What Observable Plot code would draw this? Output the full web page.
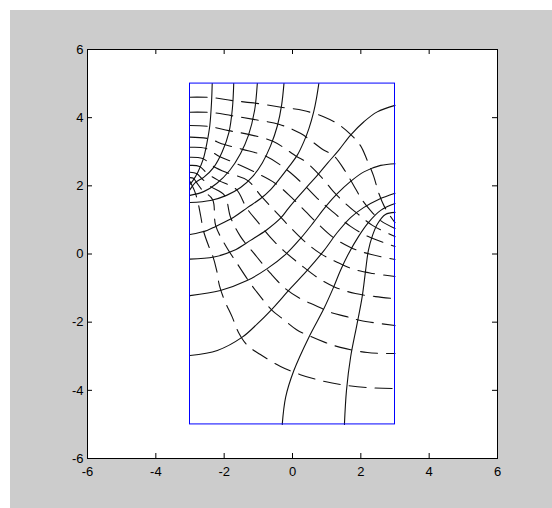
<!DOCTYPE html>
<html><head><meta charset="utf-8">
<script src="https://cdn.jsdelivr.net/npm/d3@7"></script>
<script src="https://cdn.jsdelivr.net/npm/@observablehq/plot@0.6"></script>
<style>
html,body{margin:0;padding:0;background:#fff;}
#wrap{position:relative;width:552px;height:508px;background:#fff;overflow:hidden;}
#bg{position:absolute;left:10px;top:10px;right:0;bottom:0;background:#cccccc;}
#chart{position:absolute;left:0;top:0;}
</style></head><body>
<div id="wrap"><div id="bg"></div><div id="chart"></div></div>
<script>
const xTicks = [-6, -4, -2, 0, 2, 4, 6];
const yTicks = [-6, -4, -2, 0, 2, 4, 6];
const boxX = [-3, 3];
const boxY = [-5, 5];

// solid curves
const S1 = [[-2.35,5],[-2.37,4.45],[-2.42,3.77],[-2.50,3.28],[-2.61,2.79],[-2.77,2.40],[-2.91,2.16],[-3,2.04]];
const S2 = [[-1.72,5],[-1.76,4.26],[-1.86,3.57],[-2.06,2.99],[-2.30,2.55],[-2.60,2.25],[-2.84,2.10],[-3,1.89]];
const S3 = [[-1.03,5],[-1.11,4.21],[-1.29,3.48],[-1.52,2.95],[-1.84,2.45],[-2.22,2.07],[-2.60,1.83],[-3,1.72]];
const S4 = [[-0.25,5],[-0.32,4.36],[-0.44,3.77],[-0.64,3.18],[-0.88,2.68],[-1.17,2.27],[-1.52,1.95],[-1.93,1.72],[-2.40,1.57],[-3,1.51]];
const S5 = [[0.77,5],[0.70,4.56],[0.62,4.17],[0.48,3.68],[0.33,3.29],[0.14,2.90],[-0.12,2.54],[-0.35,2.24],[-0.64,1.89],[-0.94,1.62],[-1.32,1.36],[-1.72,1.08],[-2.25,0.81],[-2.50,0.69],[-3,0.57]];
const S6 = [[3,4.36],[2.48,4.17],[2.09,3.88],[1.70,3.49],[1.35,3.04],[1.02,2.66],[0.72,2.30],[0.43,1.98],[0.15,1.66],[-0.12,1.34],[-0.35,1.05],[-0.74,0.72],[-1.23,0.40],[-1.72,0.10],[-2.30,-0.09],[-3,-0.15]];
const S7 = [[3,2.65],[2.58,2.60],[2.09,2.41],[1.70,2.13],[1.31,1.77],[0.97,1.39],[0.61,0.92],[0.23,0.45],[-0.20,-0.01],[-0.74,-0.43],[-1.33,-0.78],[-2.11,-1.07],[-3,-1.22]];
const S8 = [[-3,-2.98],[-2.20,-2.83],[-1.47,-2.44],[-1.03,-2.05],[-0.64,-1.66],[-0.06,-1.01],[0.43,-0.48],[0.92,0.10],[1.31,0.63],[1.70,1.07],[2.08,1.36],[2.52,1.60],[3,1.78]];
const S9 = [[-0.30,-5],[-0.20,-4.20],[0.04,-3.42],[0.48,-2.44],[0.92,-1.60],[1.20,-0.98],[1.40,-0.49],[1.64,0.01],[1.93,0.51],[2.22,0.92],[2.58,1.28],[3,1.48]];
const S10 = [[1.52,-5],[1.58,-4.00],[1.70,-3.03],[1.89,-2.05],[2.04,-1.25],[2.14,-0.48],[2.22,0.10],[2.34,0.54],[2.49,0.89],[2.72,1.16],[3,1.22]];

// dashed curves
const D1 = [[-3,4.60],[-2.37,4.59],[-1.76,4.50],[-1.05,4.42],[-0.29,4.30],[0.32,4.21],[0.91,4.03],[1.35,3.80],[1.70,3.51],[1.99,3.18],[2.19,2.74],[2.37,2.30],[2.52,1.80],[2.69,1.39],[2.87,1.10],[3,0.92]];
const D2 = [[-3,4.16],[-2.37,4.15],[-1.79,4.06],[-1.14,3.95],[-0.38,3.80],[0.23,3.54],[0.91,3.05],[1.20,2.89],[1.55,2.42],[1.84,1.92],[2.05,1.57],[2.28,1.28],[2.58,0.98],[3,0.75]];
const D3 = [[-3,3.77],[-2.43,3.74],[-1.87,3.62],[-1.29,3.51],[-0.56,3.30],[0.12,2.86],[0.38,2.71],[0.88,2.22],[1.20,1.83],[1.55,1.48],[1.93,1.16],[2.34,0.84],[3,0.51]];
const D4 = [[-3,3.43],[-2.49,3.39],[-1.99,3.21],[-1.46,3.07],[-0.76,2.86],[-0.18,2.48],[0.32,2.04],[0.76,1.60],[1.20,1.22],[1.70,0.81],[2.22,0.51],[3,0.22]];
const D5 = [[-3,3.13],[-2.55,3.10],[-2.14,2.86],[-1.70,2.68],[-1.08,2.39],[-0.50,2.07],[-0.03,1.66],[0.38,1.25],[0.76,0.87],[1.20,0.48],[1.70,0.19],[2.28,-0.01],[3,-0.16]];
const D6 = [[-3,2.84],[-2.63,2.80],[-2.31,2.57],[-1.93,2.39],[-1.32,2.16],[-0.91,1.69],[-0.53,1.28],[-0.15,0.87],[0.32,0.40],[0.82,0.01],[1.32,-0.25],[1.79,-0.45],[2.34,-0.57],[3,-0.66]];
const D7 = [[-3,2.60],[-2.72,2.57],[-2.49,2.36],[-2.17,2.16],[-1.64,1.89],[-1.35,1.36],[-1.00,0.92],[-0.64,0.48],[-0.26,0.10],[0.23,-0.31],[0.73,-0.69],[1.26,-0.98],[1.84,-1.16],[2.43,-1.25],[3,-1.31]];
const D8 = [[-3,2.40],[-2.81,2.36],[-2.66,2.22],[-2.40,1.98],[-1.99,1.72],[-1.81,1.07],[-1.52,0.51],[-1.08,-0.04],[-0.64,-0.57],[-0.18,-1.04],[0.23,-1.31],[0.67,-1.51],[1.11,-1.71],[1.55,-1.83],[1.99,-1.95],[3,-2.10]];
const D9 = [[-3,2.24],[-2.90,2.22],[-2.81,2.10],[-2.63,1.86],[-2.34,1.60],[-2.25,0.84],[-1.96,0.25],[-1.62,-0.28],[-1.29,-0.78],[-1.08,-1.07],[-0.59,-1.66],[-0.30,-1.89],[0.12,-2.22],[0.53,-2.42],[0.97,-2.60],[1.40,-2.74],[2.19,-2.89],[3,-2.92]];
const D10 = [[-3,2.13],[-2.87,1.86],[-2.78,1.57],[-2.69,1.13],[-2.60,0.66],[-2.46,0.25],[-2.34,-0.04],[-2.22,-0.48],[-2.14,-0.92],[-1.99,-1.36],[-1.76,-1.86],[-1.58,-2.30],[-1.32,-2.68],[-0.94,-2.95],[-0.35,-3.30],[0.23,-3.54],[0.82,-3.71],[1.40,-3.83],[2.19,-3.92],[3,-3.95]];

const solidCurves = [S1, S2, S3, S4, S5, S6, S7, S8, S9, S10];
const dashedCurves = [D1, D2, D3, D4, D5, D6, D7, D8, D9, D10];
const toRows = (curves) => curves.flatMap((c, i) => c.map(([x, y]) => ({x, y, id: i})));
const solidRows = toRows(solidCurves);
const dashedRows = toRows(dashedCurves);
const boxRows = [{x1: boxX[0], x2: boxX[1], y1: boxY[0], y2: boxY[1]}];

const fmt = d => String(d);
const font = "'Liberation Sans', Arial, Helvetica, sans-serif";
const chart = Plot.plot({
  width: 552,
  height: 508,
  marginLeft: 87,
  marginRight: 55,
  marginTop: 49,
  marginBottom: 50,
  x: {domain: [-6, 6]},
  y: {domain: [-6, 6]},
  style: {background: "none", color: "black", fontFamily: font, fontSize: "13px", overflow: "visible"},
  marks: [
    Plot.frame({fill: "white", stroke: "none"}),
    Plot.line(solidRows, {x: "x", y: "y", z: "id", stroke: "#111", strokeWidth: 1.1, curve: "catmull-rom"}),
    Plot.line(dashedRows, {x: "x", y: "y", z: "id", stroke: "#111", strokeWidth: 1.1, strokeDasharray: "17,9", curve: "catmull-rom"}),
    Plot.rect(boxRows, {x1: "x1", x2: "x2", y1: "y1", y2: "y2", fill: "none", stroke: "#0000ff", strokeWidth: 1}),
    Plot.frame({stroke: "black", fill: "none", strokeWidth: 1}),
    Plot.tickX(xTicks, {x: d => d, insetTop: 404, stroke: "black"}),
    Plot.tickX(xTicks, {x: d => d, insetBottom: 404, stroke: "black"}),
    Plot.tickY(yTicks, {y: d => d, insetRight: 405, stroke: "black"}),
    Plot.tickY(yTicks, {y: d => d, insetLeft: 405, stroke: "black"}),
    Plot.axisX({ticks: xTicks, tickSize: 0, tickPadding: 8, tickFormat: fmt, fill: "black", fontSize: 13, fontFamily: font}),
    Plot.axisY({ticks: yTicks, tickSize: 0, tickPadding: 4, tickFormat: fmt, fill: "black", fontSize: 13, fontFamily: font})
  ]
});
document.getElementById("chart").appendChild(chart);
</script>
</body></html>
